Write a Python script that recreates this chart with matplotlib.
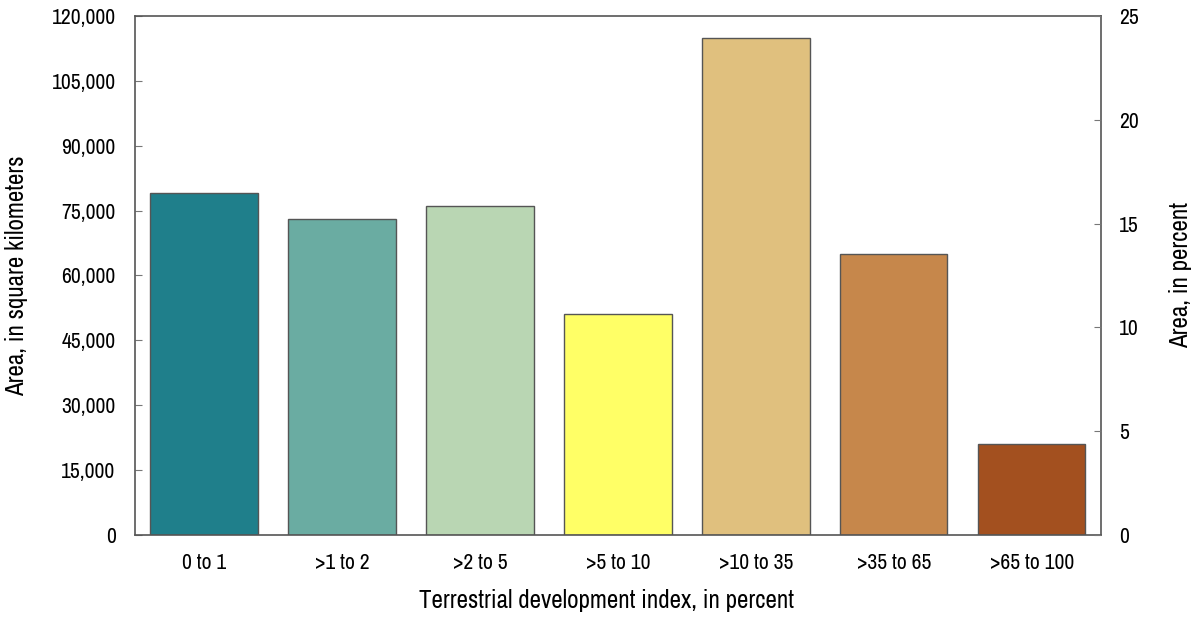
import matplotlib
matplotlib.use("Agg")
import matplotlib.pyplot as plt
from matplotlib.ticker import FuncFormatter

# data
categories = ["0 to 1", ">1 to 2", ">2 to 5", ">5 to 10", ">10 to 35", ">35 to 65", ">65 to 100"]
area_km2 = [79000, 73000, 76000, 51000, 115000, 65000, 21000]
bar_colors = ["#1f7f8b", "#6aaca2", "#b9d6b3", "#ffff66", "#e0c07e", "#c6874b", "#a3501f"]

plt.rcParams["font.family"] = ["Archivo Narrow", "Liberation Sans", "DejaVu Sans"]
plt.rcParams["font.size"] = 15.5

fig = plt.figure(figsize=(11.95, 6.17), dpi=100)
ax = fig.add_axes([0.113, 0.133, 0.808, 0.841])

x = range(len(categories))
ax.bar(x, area_km2, width=0.78, color=bar_colors, edgecolor="#555555", linewidth=1)

ax.set_xlim(-0.5, len(categories) - 0.5)
ax.set_ylim(0, 120000)
ax.set_yticks(range(0, 120001, 15000))
ax.yaxis.set_major_formatter(FuncFormatter(lambda v, p: f"{int(v):,}"))
ax.set_xticks(list(x))
ax.set_xticklabels(categories)
ax.tick_params(axis="x", length=0, pad=13)
ax.tick_params(axis="y", direction="in", length=5, color="#777777", pad=14)
for s in ax.spines.values():
    s.set_color("#555555")
    s.set_linewidth(1.2)

ax.set_xlabel("Terrestrial development index, in percent", fontsize=18, labelpad=14)
ax.xaxis.set_label_coords(0.488, -0.105)
ax.set_ylabel("Area, in square kilometers", fontsize=18, labelpad=17)

# percent axis: total area is the sum of the bars
total = sum(area_km2)
ax2 = ax.twinx()
ax2.set_ylim(0, 120000 / total * 100)
ax2.set_yticks([0, 5, 10, 15, 20, 25])
ax2.tick_params(axis="y", direction="in", length=5, color="#777777", pad=13)
ax2.set_ylabel("Area, in percent", fontsize=18, labelpad=22)
for s in ax2.spines.values():
    s.set_visible(False)

fig.savefig("out.png", dpi=100)
